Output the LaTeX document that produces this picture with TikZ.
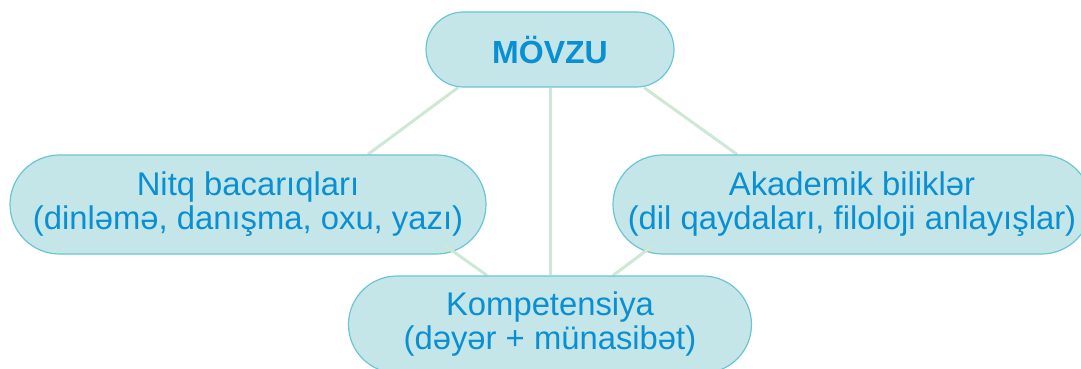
\documentclass[tikz,border=0pt]{standalone}
\usepackage{fontspec}
\setmainfont{Liberation Sans}
\usetikzlibrary{calc}
\definecolor{boxfill}{RGB}{196,230,233}
\definecolor{boxline}{RGB}{108,197,213}
\definecolor{txt}{RGB}{10,143,210}
\definecolor{conn}{RGB}{205,232,212}
\pgfdeclarelayer{background}
\pgfdeclarelayer{front}
\pgfsetlayers{background,main,front}
\begin{document}
\begin{tikzpicture}[x=1pt,y=-1pt,
  topic/.style={draw=boxline, line width=1.2pt, fill=boxfill, text=txt,
    inner sep=0pt, align=center, font=\fontsize{32.8}{34}\selectfont},
  link/.style={draw=conn, line width=3pt}]
\useasboundingbox (0,0) rectangle (1081,369);
\clip (0,0) rectangle (1081,369);
\begin{pgfonlayer}{front}
\node[topic, minimum width=403pt, minimum height=97pt, rounded corners=48.5pt] (B) at (550,324.5)
  {Kompetensiya\\(dəyər + münasibət)};
\end{pgfonlayer}
\node[topic, minimum width=248pt, minimum height=75pt, rounded corners=37.5pt,
  font=\fontsize{32}{33.5}\selectfont\bfseries] (T) at (550,49.5) {\raisebox{-3pt}{MÖVZU}};
\node[topic, minimum width=476pt, minimum height=99pt, rounded corners=49.5pt] (L) at (248,204.5)
  {Nitq bacarıqları\\(dinləmə, danışma, oxu, yazı)};
\node[topic, minimum width=478pt, minimum height=99pt, rounded corners=49.5pt] (R) at (852,204.5)
  {Akademik biliklər\\(dil qaydaları, filoloji anlayışlar)};
\begin{pgfonlayer}{background}
\draw[link] ($(T.south)+(-92,0)$) -- ($(L.north)+(120,0)$);
\draw[link] (T.south) -- (B.north);
\draw[link] ($(T.south)+(94,0)$) -- ($(R.north)+(-115,0)$);
\end{pgfonlayer}
\draw[link] ($(L.south)+(197,-9)$) -- ($(B.north)+(-63,0)$);
\draw[link] ($(R.south)+(-199,-9)$) -- ($(B.north)+(63,0)$);
\end{tikzpicture}
\end{document}
